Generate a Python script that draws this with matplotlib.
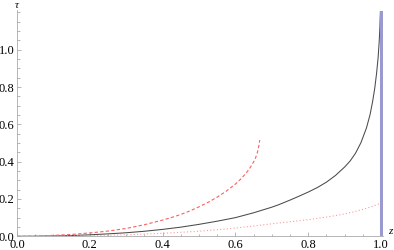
import matplotlib
matplotlib.use("Agg")
import matplotlib.pyplot as plt
from matplotlib.ticker import MultipleLocator

plt.rcParams["font.family"] = ["Liberation Serif", "DejaVu Serif"]

# ---------------- DATA ----------------
# solid curve, diverges at z -> 1
z_solid = [0.0, 0.05, 0.1, 0.15, 0.2, 0.25, 0.3, 0.35, 0.4, 0.45, 0.5, 0.55, 0.6,
           0.65, 0.7, 0.72, 0.75, 0.775, 0.8, 0.825, 0.85, 0.875, 0.9, 0.915,
           0.93, 0.945, 0.96, 0.97, 0.977, 0.983, 0.988, 0.992, 0.995, 0.997, 0.9985]
tau_solid = [0.0, 0.0005, 0.002, 0.004, 0.008, 0.013, 0.019, 0.027, 0.037, 0.049,
             0.064, 0.081, 0.10, 0.126, 0.156, 0.17, 0.194, 0.215, 0.237, 0.261,
             0.29, 0.326, 0.371, 0.403, 0.445, 0.502, 0.58, 0.652, 0.722, 0.795,
             0.875, 0.955, 1.04, 1.12, 1.21]

# dashed curve, stops near z = 2/3
z_dash = [0.0, 0.05, 0.1, 0.15, 0.2, 0.25, 0.3, 0.35, 0.4, 0.425, 0.45, 0.475, 0.5,
          0.525, 0.55, 0.575, 0.6, 0.615, 0.63, 0.64, 0.65, 0.655, 0.66, 0.663, 0.667]
tau_dash = [0.0, 0.001, 0.005, 0.010, 0.018, 0.028, 0.042, 0.062, 0.087, 0.101,
            0.117, 0.136, 0.158, 0.182, 0.21, 0.242, 0.28, 0.307, 0.34, 0.366,
            0.398, 0.418, 0.446, 0.47, 0.516]

# dotted curve
z_dot = [0.0, 0.1, 0.2, 0.3, 0.4, 0.5, 0.6, 0.65, 0.7, 0.75, 0.8, 0.825, 0.86,
         0.9, 0.925, 0.95, 0.975, 1.0]
tau_dot = [0.0, 0.001, 0.003, 0.008, 0.016, 0.027, 0.044, 0.055, 0.067, 0.078,
           0.089, 0.096, 0.106, 0.12, 0.131, 0.144, 0.159, 0.178]

# vertical line at z = 1
z_wall = 1.0
tau_wall = 1.21

x_ticks = [0.0, 0.2, 0.4, 0.6, 0.8, 1.0]
y_ticks = [0.0, 0.2, 0.4, 0.6, 0.8, 1.0]

# ---------------- FIGURE ----------------
fig = plt.figure(figsize=(3.94, 2.5), dpi=100)
ax = fig.add_axes([17 / 394, (250 - 236.3) / 250, 365.8 / 394, 225.8 / 250])
ax.set_xlim(0, 1.005)
ax.set_ylim(0, tau_wall)

ax.plot(z_solid, tau_solid, color="#4a4a4a", lw=0.75)
ax.plot(z_dash, tau_dash, color="#ff6060", lw=0.8, ls=(0, (3, 2)))
ax.plot(z_dot, tau_dot, color="#ff9a9a", lw=0.8, ls=(0, (1, 2)))
ax.plot([z_wall, z_wall], [0, tau_wall], color="#9a9ad0", lw=2.2)

# Mathematica-like axes
for side in ["top", "right"]:
    ax.spines[side].set_visible(False)
for side in ["left", "bottom"]:
    ax.spines[side].set_color("#aaaaaa")
    ax.spines[side].set_linewidth(0.6)

ax.set_xticks(x_ticks)
ax.set_yticks(y_ticks)
ax.set_xticklabels([f"{v:.1f}" for v in x_ticks])
ax.set_yticklabels([f"{v:.1f}" for v in y_ticks])
ax.xaxis.set_minor_locator(MultipleLocator(0.05))
ax.yaxis.set_minor_locator(MultipleLocator(0.05))
ax.tick_params(which="major", direction="in", length=3, width=0.5, color="#999999",
               labelsize=9, pad=2)
ax.tick_params(which="minor", direction="in", length=1.8, width=0.5, color="#999999")

ax.text(0.0, 1.0, "τ", transform=ax.transAxes, ha="center", va="bottom",
        fontsize=8, style="italic")
ax.text(1.02, 0.0, "z", transform=ax.transAxes, ha="center", va="bottom",
        fontsize=8, style="italic")

fig.savefig("out.png", dpi=100)
